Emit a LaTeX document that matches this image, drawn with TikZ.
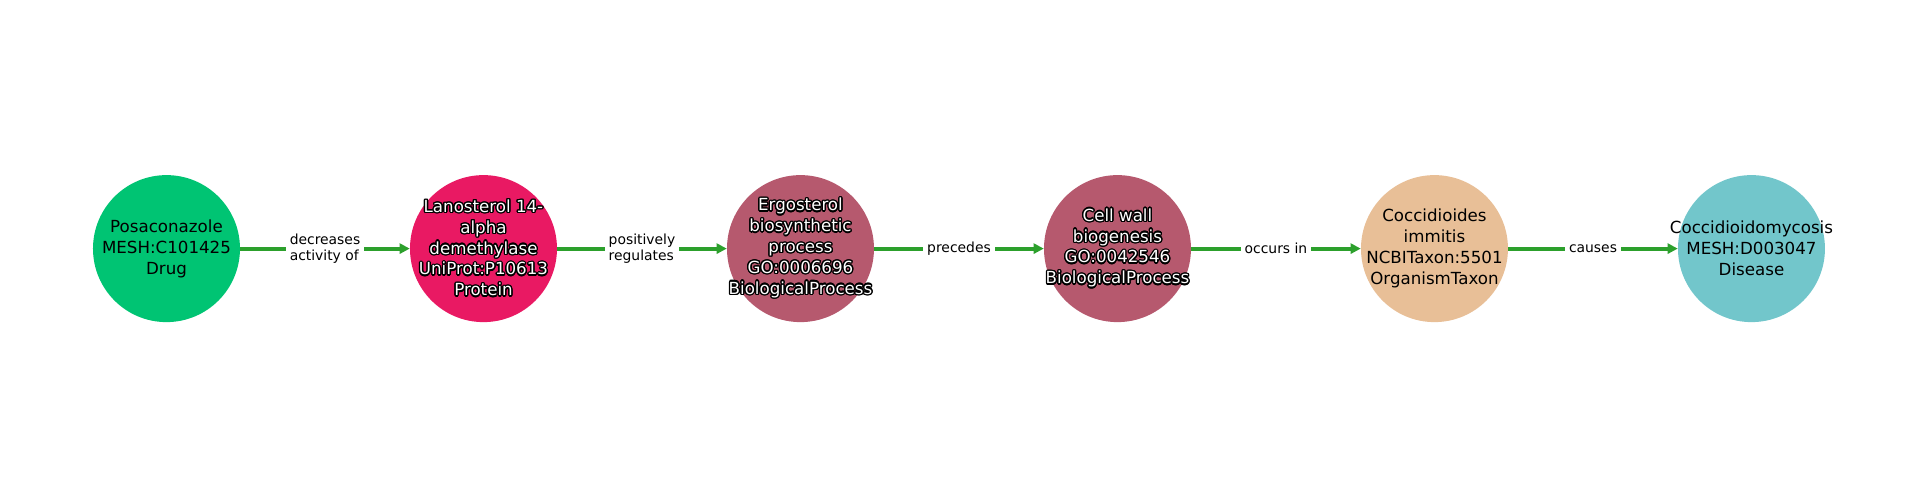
\documentclass[tikz,border=0pt]{standalone}
\usepackage{fontspec}
\setmainfont{DejaVu Sans}
\usepackage[copies]{contour}
\contourlength{0.95pt}
\usetikzlibrary{arrows.meta,calc,graphs}
\definecolor{drugcol}{RGB}{0,196,115}
\definecolor{protcol}{RGB}{233,25,99}
\definecolor{proccol}{RGB}{182,89,110}
\definecolor{taxcol}{RGB}{232,191,151}
\definecolor{discol}{RGB}{114,198,203}
\definecolor{relcol}{RGB}{44,160,44}
\newcommand{\wt}[1]{\contour{black}{#1}}
\tikzset{
    ampersand replacement=\&,
    >={Triangle[length=7.2pt,width=7.2pt]},
    ent/.style={circle,minimum size=105.84pt,inner sep=0pt},
    ntext/.style={align=center,inner sep=0pt,font=\fontsize{12}{15}\selectfont},
    otext/.style={ntext,text=white},
    rel/.style={draw=relcol,line width=2.88pt},
    elabel/.style={fill=white,inner sep=3pt,align=left,font=\fontsize{10}{11.5}\selectfont},
}

\begin{document}
\begin{tikzpicture}[x=0.72pt,y=0.72pt]
            \matrix[column sep={228.24pt,between origins}]{
                \node[ent,fill=drugcol,label={[ntext]center:{Posaconazole\\MESH:C101425\\Drug}}] (P) {} ; \&
                \node[ent,fill=protcol,label={[otext]center:{\wt{Lanosterol 14-}\\\wt{alpha}\\\wt{demethylase}\\\wt{UniProt:P10613}\\\wt{Protein}}}] (L) {} ; \&
                \node[ent,fill=proccol,label={[otext]center:{\wt{Ergosterol}\\\wt{biosynthetic}\\\wt{process}\\\wt{GO:0006696}\\\wt{BiologicalProcess}}}] (E) {} ; \&
                \node[ent,fill=proccol,label={[otext]center:{\wt{Cell wall}\\\wt{biogenesis}\\\wt{GO:0042546}\\\wt{BiologicalProcess}}}] (C) {} ; \&
                \node[ent,fill=taxcol,label={[ntext]center:{Coccidioides\\immitis\\NCBITaxon:5501\\OrganismTaxon}}] (T) {} ; \&
                \node[ent,fill=discol,label={[ntext]center:{Coccidioidomycosis\\MESH:D003047\\Disease}}] (D) {} ; \\
            } ;

            \graph[use existing nodes, edges={rel}] {
                P ->[edge node={node[elabel]{decreases\\activity of}}]
                L ->[edge node={node[elabel]{positively\\regulates}}]
                E ->[edge node={node[elabel]{precedes}}]
                C ->[edge node={node[elabel]{occurs in}}]
                T ->[edge node={node[elabel]{causes}}]
                D ;
            } ;

            \useasboundingbox ($(P.center)+(-166.5,-251.4)$) rectangle ++(1920,500);
        \end{tikzpicture}
\end{document}
